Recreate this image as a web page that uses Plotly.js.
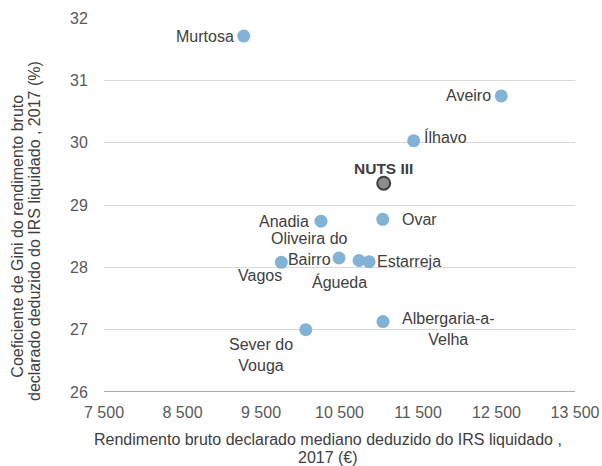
<!DOCTYPE html>
<html><head><meta charset="utf-8">
<script src="https://cdn.plot.ly/plotly-3.0.1.min.js"></script>
<style>body{margin:0;background:#fff}#c{width:602px;height:466px}</style>
</head><body><div id="c"></div>
<script>
const names = ["Murtosa","Aveiro","Ílhavo","Ovar","Anadia","Oliveira do<br>Bairro","Águeda","Estarreja","Vagos","Albergaria-a-<br>Velha","Sever do<br>Vouga"];
const income = [9280,12561,11445,11051,10264,10494,10749,10876,9759,11054,10070];
const gini = [31.71,30.75,30.03,28.77,28.74,28.15,28.11,28.09,28.08,27.13,27.0];
const nutsName = ["NUTS III"];
const nutsIncome = [11063];
const nutsGini = [29.35];
const xTitleLines = ["Rendimento bruto declarado mediano deduzido do IRS liquidado ,","2017 (€)"];
const yTitleLines = ["Coeficiente de Gini do rendimento bruto","declarado deduzido do IRS liquidado , 2017 (%)"];

// label placement (style only)
const lab = [
 {xa:"right",xs:-8,ys:0},
 {xa:"right",xs:-8,ys:0},
 {xa:"left",xs:8,ys:4},
 {xa:"left",xs:17,ys:0},
 {xa:"right",xs:-10,ys:0},
 {xa:"center",xs:-30,ys:9},
 {xa:"center",xs:-20,ys:-22},
 {xa:"left",xs:6,ys:0},
 {xa:"center",xs:-21,ys:-13},
 {xa:"center",xs:65,ys:-7},
 {xa:"center",xs:-45,ys:-25}
];
const font = "Liberation Sans, Arial, sans-serif";
const ann = names.map((n,i)=>({x:income[i],y:gini[i],xref:'x',yref:'y',text:n,showarrow:false,
  xanchor:lab[i].xa,yanchor:'middle',xshift:lab[i].xs,yshift:lab[i].ys,align:'center',
  font:{family:font,size:16,color:'#404040'}}));
ann.push({x:nutsIncome[0],y:nutsGini[0],xref:'x',yref:'y',text:'<b>'+nutsName[0]+'</b>',showarrow:false,
  xanchor:'center',yanchor:'middle',yshift:15,font:{family:font,size:15.5,color:'#404040'}});
const tf = {family:font,size:16,color:'#404040'};
ann.push({xref:'paper',yref:'paper',x:0.4756,y:-0.128,xanchor:'center',yanchor:'middle',showarrow:false,text:xTitleLines[0],font:tf});
ann.push({xref:'paper',yref:'paper',x:0.4756,y:-0.176,xanchor:'center',yanchor:'middle',showarrow:false,text:xTitleLines[1],font:tf});
ann.push({xref:'paper',yref:'paper',x:-0.1826,y:0.418,xanchor:'center',yanchor:'middle',textangle:-90,showarrow:false,text:yTitleLines[0],font:tf});
ann.push({xref:'paper',yref:'paper',x:-0.1465,y:0.4305,xanchor:'center',yanchor:'middle',textangle:-90,showarrow:false,text:yTitleLines[1],font:tf});

const traces = [
 {type:'scatter',mode:'markers',x:income,y:gini,marker:{size:13,color:'#82b3d6'},hoverinfo:'skip'},
 {type:'scatter',mode:'markers',x:nutsIncome,y:nutsGini,marker:{size:13,color:'#8c8c8c',line:{color:'#404040',width:2}},hoverinfo:'skip'}
];
const layout = {
 width:602,height:466,margin:{l:104,r:27,t:18,b:74},
 paper_bgcolor:'#fff',plot_bgcolor:'#fff',showlegend:false,separators:', ',
 font:{family:font,size:16,color:'#595959'},
 xaxis:{range:[7500,13500],tick0:7500,dtick:1000,tickformat:',d',showgrid:false,zeroline:false,
   showline:false,ticks:'outside',ticklen:6,tickcolor:'rgba(0,0,0,0)',fixedrange:true},
 yaxis:{range:[26,32],dtick:1,showgrid:true,gridcolor:'#d9d9d9',gridwidth:1,zeroline:false,showline:false,
   ticks:'outside',ticklen:12,tickcolor:'rgba(0,0,0,0)',fixedrange:true},
 shapes:[{type:'line',xref:'paper',yref:'y',x0:0,x1:1,y0:26,y1:26,line:{color:'#8c8c8c',width:1.5}}],
 annotations:ann
};
Plotly.newPlot('c',traces,layout,{staticPlot:true});
</script></body></html>
